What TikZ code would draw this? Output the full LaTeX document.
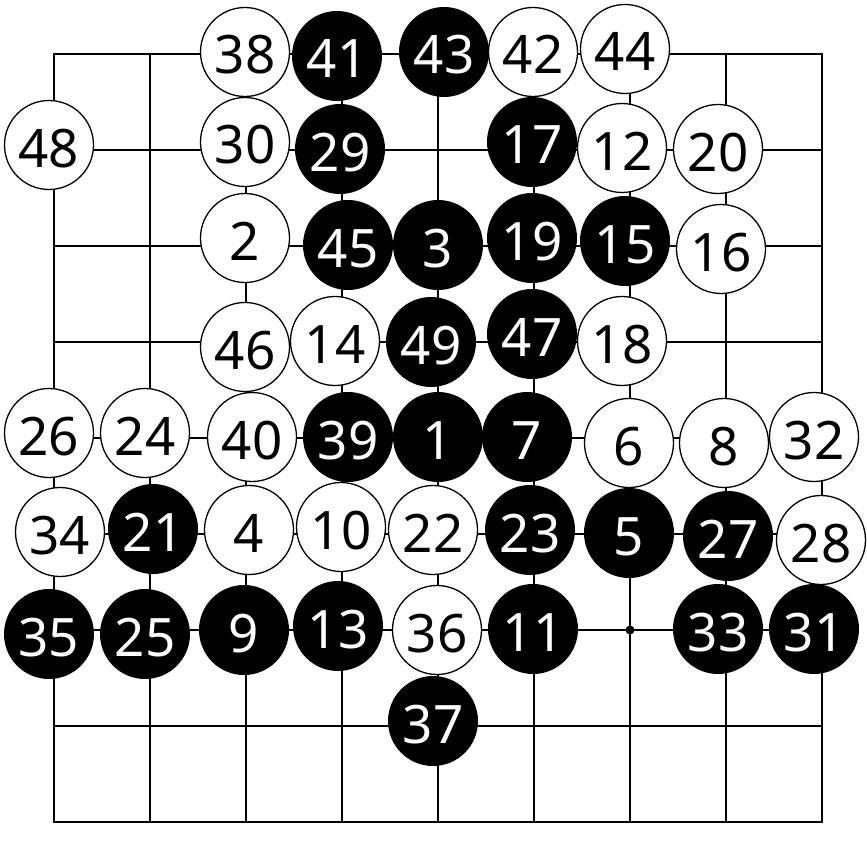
\documentclass[tikz,border=0pt]{standalone}
\usepackage{fontspec}
\setmainfont{Noto Sans}
\begin{document}
\begin{tikzpicture}[x=1pt,y=-1pt,
  gridline/.style={line width=1.8pt, draw=black},
  stone/.style={circle, minimum size=89pt, inner sep=0pt, text height=44pt, text depth=0pt, font=\fontsize{53}{53}\selectfont},
  wstone/.style={stone, draw=black, line width=1.3pt, fill=white, text=black},
  bstone/.style={stone, fill=black, text=white, minimum size=90pt},
  starpt/.style={circle, fill=black, inner sep=0pt, minimum size=9pt}]
\useasboundingbox (0,0) rectangle (867,864);
% board
\draw[gridline] (54,54) rectangle (822,822);
\foreach \i in {1,...,7} {
  \draw[gridline] (54+96*\i,54) -- (54+96*\i,822);
  \draw[gridline] (54,54+96*\i) -- (822,54+96*\i);
}
\node[starpt] (star) at (630,630) {};
% row 0
\node[wstone] (s38) at (245,52) {38};
\node[bstone] (s41) at (337,56) {41};
\node[bstone] (s43) at (444,52) {43};
\node[wstone] (s42) at (533,52) {42};
\node[wstone] (s44) at (625,49) {44};
% row 1
\node[wstone] (s48) at (49,145) {48};
\node[wstone] (s30) at (245,142) {30};
\node[bstone] (s29) at (340,149) {29};
\node[bstone] (s17) at (532,142) {17};
\node[wstone] (s12) at (622,148) {12};
\node[wstone] (s20) at (718,149) {20};
% row 2
\node[wstone] (s2) at (245,238) {2};
\node[bstone] (s45) at (348,245) {45};
\node[bstone] (s3) at (438,245) {3};
\node[bstone] (s19) at (532,238) {19};
\node[bstone] (s15) at (625,241) {15};
\node[wstone] (s16) at (721,249) {16};
% row 3
\node[wstone] (s46) at (245,347) {46};
\node[wstone] (s14) at (335,341) {14};
\node[bstone] (s49) at (431,342) {49};
\node[bstone] (s47) at (532,334) {47};
\node[wstone] (s18) at (622,341) {18};
% row 4
\node[wstone] (s26) at (49,433) {26};
\node[wstone] (s24) at (145,433) {24};
\node[wstone] (s40) at (252,437) {40};
\node[bstone] (s39) at (348,437) {39};
\node[bstone] (s1) at (438,437) {1};
\node[bstone] (s7) at (527,437) {7};
\node[wstone] (s6) at (629,443) {6};
\node[wstone] (s8) at (724,443) {8};
\node[wstone] (s32) at (814,437) {32};
% row 5
\node[wstone] (s34) at (60,532) {34};
\node[bstone] (s21) at (153,529) {21};
\node[wstone] (s4) at (249,530) {4};
\node[wstone] (s10) at (341,527) {10};
\node[wstone] (s22) at (433,530) {22};
\node[bstone] (s23) at (530,530) {23};
\node[bstone] (s5) at (629,533) {5};
\node[bstone] (s27) at (728,536) {27};
\node[wstone] (s28) at (821,540) {28};
% row 6
\node[bstone] (s35) at (49,634) {35};
\node[bstone] (s25) at (145,634) {25};
\node[bstone] (s9) at (244,630) {9};
\node[bstone] (s13) at (338,626) {13};
\node[wstone] (s36) at (437,630) {36};
\node[bstone] (s11) at (533,629) {11};
\node[bstone] (s33) at (718,629) {33};
\node[bstone] (s31) at (814,629) {31};
% row 7
\node[bstone] (s37) at (433,721) {37};
\end{tikzpicture}
\end{document}
